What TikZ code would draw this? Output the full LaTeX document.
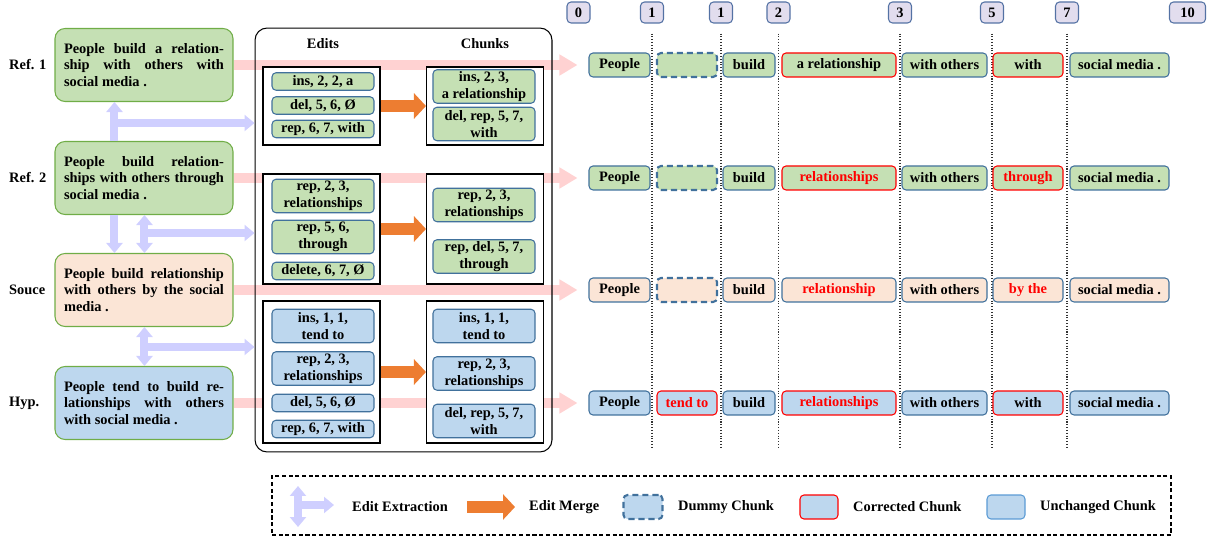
\documentclass[tikz,border=0pt]{standalone}
\usepackage{fontspec}
\setmainfont{Liberation Serif}
\usetikzlibrary{arrows.meta,positioning,calc,backgrounds}
\definecolor{RefFill}{HTML}{C5E0B4}
\definecolor{SrcFill}{HTML}{FBE5D6}
\definecolor{HypFill}{HTML}{BDD7EE}
\definecolor{SentLine}{HTML}{70AD47}
\definecolor{ChunkLine}{HTML}{41719C}
\definecolor{LegLine}{HTML}{5B9BD5}
\definecolor{IdxFill}{HTML}{E2DDEE}
\definecolor{IdxLine}{HTML}{5472A4}
\definecolor{Fix}{HTML}{FF0000}
\definecolor{Pink}{HTML}{FFD2D2}
\definecolor{Lav}{HTML}{CFCFFF}
\definecolor{Merge}{HTML}{ED7D31}

\begin{document}
\begin{tikzpicture}[
  x=0.02cm,y=-0.02cm,
  font=\bfseries\fontsize{8.2}{9.6}\selectfont,
  sent/.style={rounded corners=0.2cm,draw=SentLine,line width=0.6pt,text width=3.2cm,minimum width=3.56cm,minimum height=1.46cm,inner sep=0pt,align=justify},
  panel/.style={draw=black,rounded corners=0.24cm,line width=0.6pt,minimum width=5.94cm,minimum height=8.48cm,inner sep=0pt},
  group/.style={draw=black,line width=0.6pt,fill=white,minimum width=2.34cm,inner sep=0pt},
  item/.style={rounded corners=0.08cm,draw=ChunkLine,line width=0.6pt,minimum width=2.04cm,inner sep=0pt,align=center},
  one/.style={minimum height=0.35cm},
  two/.style={minimum height=0.67cm},
  chunk/.style={rounded corners=0.08cm,draw=ChunkLine,line width=0.6pt,minimum height=0.48cm,inner sep=0pt},
  fix/.style={draw=Fix},
  redtext/.style={text=Fix},
  dummy/.style={draw=ChunkLine,line width=1.2pt,dash pattern=on 3.5pt off 2.2pt},
  idx/.style={rounded corners=0.08cm,draw=IdxLine,fill=IdxFill,line width=0.6pt,minimum width=0.46cm,minimum height=0.42cm,inner sep=0pt},
  legbox/.style={draw=black,line width=0.85pt,dash pattern=on 2.3pt off 1.5pt,minimum width=17.98cm,minimum height=1.18cm,inner sep=0pt},
  flow/.style={-{Triangle[width=0.4cm,length=0.36cm]},line width=0.2cm,draw=Pink,shorten >=0.22cm},
  extract/.style={-{Triangle[width=0.32cm,length=0.2cm]},line width=0.16cm,draw=Lav},
  extract2/.style={{Triangle[width=0.32cm,length=0.2cm]}-{Triangle[width=0.32cm,length=0.2cm]},line width=0.16cm,draw=Lav},
  merge/.style={-{Triangle[width=0.5cm,length=0.24cm]},line width=0.24cm,draw=Merge},
  sep/.style={densely dotted,draw=black!80,line width=0.6pt}
]
\useasboundingbox (0,0) rectangle (1214,540);

% row labels and sentences
\node[anchor=west] (l1) at (3,65) {Ref. 1};
\node[anchor=west] (l2) at (3,178) {Ref. 2};
\node[anchor=west] (l3) at (3,290) {Souce};
\node[anchor=west] (l4) at (3,403) {Hyp.};
\node[sent,fill=RefFill] (r1) at (144,65) {People build a relation-\linebreak ship with others with\linebreak social media .};
\node[sent,fill=RefFill] (r2) at (144,178) {People build relation-\linebreak ships with others through\linebreak social media .};
\node[sent,fill=SrcFill] (s) at (144,290) {People build relationship\linebreak with others by the social\linebreak media .};
\node[sent,fill=HypFill] (h) at (144,403) {People tend to build re-\linebreak lationships with others\linebreak with social media .};

% edits and chunks
\node[panel] (pan) at (403.5,240) {};
\node (he) at (323,44) {Edits};
\node (hc) at (485,44) {Chunks};
\node[group,minimum height=1.56cm] (e1) at (321.5,106) {};
\node[group,minimum height=1.56cm] (c1) at (485,106) {};
\node[group,minimum height=2.2cm] (e2) at (321.5,229) {};
\node[group,minimum height=2.2cm] (c2) at (485,229) {};
\node[group,minimum height=2.84cm] (e3) at (321.5,372) {};
\node[group,minimum height=2.84cm] (c3) at (485,372) {};

\node[item,one,fill=RefFill] (e11) at (323,81.5) {ins, 2, 2, a};
\node[item,one,fill=RefFill] (e12) at (323,105.5) {del, 5, 6, Ø};
\node[item,one,fill=RefFill] (e13) at (323,129) {rep, 6, 7, with};
\node[item,two,fill=RefFill] (k11) at (484,86.5) {ins, 2, 3,\\a relationship};
\node[item,two,fill=RefFill] (k12) at (484,124) {del, rep, 5, 7,\\with};

\node[item,two,fill=RefFill] (e21) at (323,196) {rep, 2, 3,\\relationships};
\node[item,two,fill=RefFill] (e22) at (323,237) {rep, 5, 6,\\through};
\node[item,one,fill=RefFill] (e23) at (323,271) {delete, 6, 7, Ø};
\node[item,two,fill=RefFill] (k21) at (484,205) {rep, 2, 3,\\relationships};
\node[item,two,fill=RefFill] (k22) at (484,256.5) {rep, del, 5, 7,\\through};

\node[item,two,fill=HypFill] (e31) at (323,326) {ins, 1, 1,\\tend to};
\node[item,two,fill=HypFill] (e32) at (323,368.5) {rep, 2, 3,\\relationships};
\node[item,one,fill=HypFill] (e33) at (323,403) {del, 5, 6, Ø};
\node[item,one,fill=HypFill] (e34) at (323,429) {rep, 6, 7, with};
\node[item,two,fill=HypFill] (k31) at (484,326) {ins, 1, 1,\\tend to};
\node[item,two,fill=HypFill] (k32) at (484,373.5) {rep, 2, 3,\\relationships};
\node[item,two,fill=HypFill] (k33) at (484,421) {del, rep, 5, 7,\\with};

\draw[merge] (e1.east) -- (c1.west);
\draw[merge] (e2.east) -- (c2.west);
\draw[merge] (e3.east) -- (c3.west);

% index boxes
\node[idx] (i0) at (578.5,12.5) {0};
\node[idx] (i1) at (652,12.5) {1};
\node[idx] (i1b) at (721,12.5) {1};
\node[idx] (i2) at (778.5,12.5) {2};
\node[idx] (i3) at (900,12.5) {3};
\node[idx] (i5) at (992,12.5) {5};
\node[idx] (i7) at (1067,12.5) {7};
\node[idx,minimum width=0.72cm] (i10) at (1187.5,12.5) {10};
\coordinate (bot) at (0,448);
\draw[sep] ([yshift=-0.2cm]i1.south) -- (i1.south |- bot);
\draw[sep] ([yshift=-0.2cm]i1b.south) -- (i1b.south |- bot);
\draw[sep] ([yshift=-0.2cm]i2.south) -- (i2.south |- bot);
\draw[sep] ([yshift=-0.2cm]i3.south) -- (i3.south |- bot);
\draw[sep] ([yshift=-0.2cm]i5.south) -- (i5.south |- bot);
\draw[sep] ([yshift=-0.2cm]i7.south) -- (i7.south |- bot);

% aligned chunks
\node[chunk,fill=RefFill,minimum width=1.22cm] (w11) at (619.5,65) {People};
\node[chunk,dummy,fill=RefFill,minimum width=1.2cm] (w12) at (687,65) {};
\node[chunk,fill=RefFill,minimum width=1.04cm] (w13) at (749,65) {build};
\node[chunk,fix,fill=RefFill,minimum width=2.28cm] (w14) at (839,65) {a relationship};
\node[chunk,fill=RefFill,minimum width=1.7cm] (w15) at (944.5,65) {with others};
\node[chunk,fix,fill=RefFill,minimum width=1.4cm] (w16) at (1028,65) {with};
\node[chunk,fill=RefFill,minimum width=1.98cm] (w17) at (1119.5,65) {social media .};

\node[chunk,fill=RefFill,minimum width=1.22cm] (w21) at (619.5,178) {People};
\node[chunk,dummy,fill=RefFill,minimum width=1.2cm] (w22) at (687,178) {};
\node[chunk,fill=RefFill,minimum width=1.04cm] (w23) at (749,178) {build};
\node[chunk,fix,redtext,fill=RefFill,minimum width=2.28cm] (w24) at (839,178) {relationships};
\node[chunk,fill=RefFill,minimum width=1.7cm] (w25) at (944.5,178) {with others};
\node[chunk,fix,redtext,fill=RefFill,minimum width=1.4cm] (w26) at (1028,178) {through};
\node[chunk,fill=RefFill,minimum width=1.98cm] (w27) at (1119.5,178) {social media .};

\node[chunk,fill=SrcFill,minimum width=1.22cm] (w31) at (619.5,290) {People};
\node[chunk,dummy,fill=SrcFill,minimum width=1.2cm] (w32) at (687,290) {};
\node[chunk,fill=SrcFill,minimum width=1.04cm] (w33) at (749,290) {build};
\node[chunk,redtext,fill=SrcFill,minimum width=2.28cm] (w34) at (839,290) {relationship};
\node[chunk,fill=SrcFill,minimum width=1.7cm] (w35) at (944.5,290) {with others};
\node[chunk,redtext,fill=SrcFill,minimum width=1.4cm] (w36) at (1028,290) {by the};
\node[chunk,fill=SrcFill,minimum width=1.98cm] (w37) at (1119.5,290) {social media .};

\node[chunk,fill=HypFill,minimum width=1.22cm] (w41) at (619.5,403) {People};
\node[chunk,fix,redtext,fill=HypFill,minimum width=1.2cm] (w42) at (687,403) {tend to};
\node[chunk,fill=HypFill,minimum width=1.04cm] (w43) at (749,403) {build};
\node[chunk,fix,redtext,fill=HypFill,minimum width=2.28cm] (w44) at (839,403) {relationships};
\node[chunk,fill=HypFill,minimum width=1.7cm] (w45) at (944.5,403) {with others};
\node[chunk,fix,fill=HypFill,minimum width=1.4cm] (w46) at (1028,403) {with};
\node[chunk,fill=HypFill,minimum width=1.98cm] (w47) at (1119.5,403) {social media .};

\begin{pgfonlayer}{background}
\draw[flow] (r1.east) -- (w11.west);
\draw[flow] (r2.east) -- (w21.west);
\draw[flow] (s.east) -- (w31.west);
\draw[flow] (h.east) -- (w41.west);
\end{pgfonlayer}

% edit extraction arrows
\draw[extract] ([xshift=1.2cm]r2.north west) -- ([xshift=1.2cm]r1.south west);
\coordinate (j1) at (115,123);
\draw[extract] (j1) -- (j1 -| pan.west);
\draw[extract] ([xshift=1.2cm]r2.south west) -- ([xshift=1.2cm]s.north west);
\draw[extract2] ([xshift=1.8cm]r2.south west) -- ([xshift=1.8cm]s.north west);
\coordinate (j2) at (145,233);
\draw[extract] (j2) -- (j2 -| pan.west);
\draw[extract2] ([xshift=1.8cm]s.south west) -- ([xshift=1.8cm]h.north west);
\coordinate (j3) at (145,347);
\draw[extract] (j3) -- (j3 -| pan.west);

% legend
\node[legbox] (leg) at (721.5,505.5) {};
\coordinate (x1) at (298,486);
\coordinate (x2) at (298,527);
\coordinate (x3) at (298,505);
\coordinate (x4) at (334,505);
\draw[extract2] (x1) -- (x2);
\draw[extract] (x3) -- (x4);
\node[anchor=west] (t1) at (346,507) {Edit Extraction};
\coordinate (m1) at (467,507);
\coordinate (m2) at (515,507);
\draw[merge] (m1) -- (m2);
\node[anchor=west] (t2) at (523,507) {Edit Merge};
\node[chunk,dummy,fill=HypFill,minimum width=0.78cm] (d1) at (643,507) {};
\node[anchor=west] (t3) at (672,507) {Dummy Chunk};
\node[chunk,fix,fill=HypFill,minimum width=0.76cm] (d2) at (819,507) {};
\node[anchor=west] (t4) at (847,507) {Corrected Chunk};
\node[chunk,draw=LegLine,fill=HypFill,minimum width=0.76cm] (d3) at (1006,507) {};
\node[anchor=west] (t5) at (1034,507) {Unchanged Chunk};
\end{tikzpicture}
\end{document}
